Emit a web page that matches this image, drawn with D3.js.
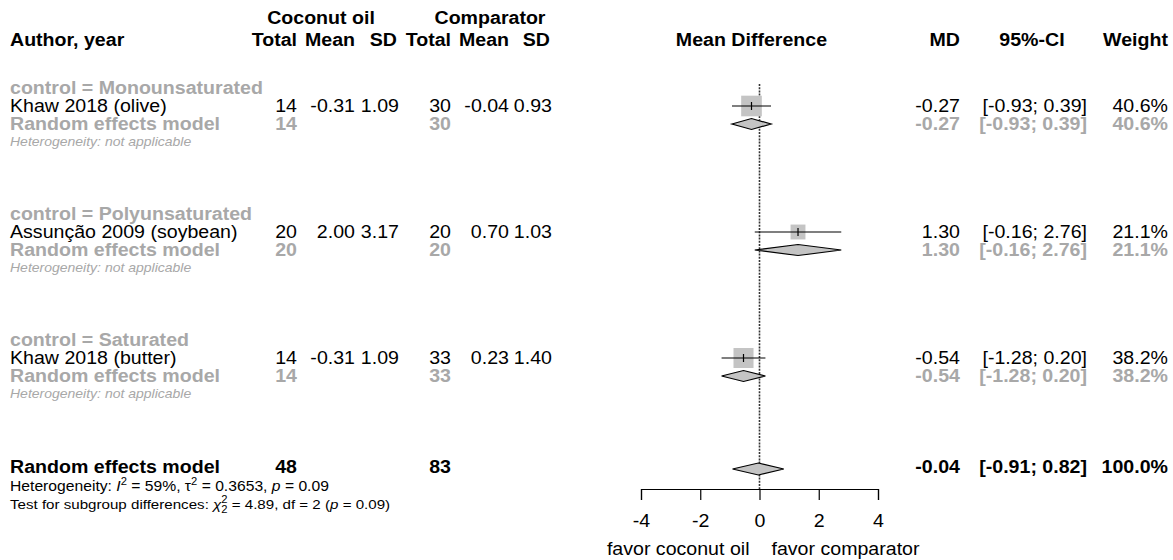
<!DOCTYPE html>
<html>
<head>
<meta charset="utf-8">
<script src="https://cdn.jsdelivr.net/npm/d3@7"></script>
<style>
  body { margin: 0; background: #fff; }
  text { font-family: "Liberation Sans", Arial, sans-serif; }
</style>
</head>
<body>
<script>
// dados
const grupos = ["control = Monounsaturated", "control = Polyunsaturated", "control = Saturated"];
const estudos = ["Khaw 2018 (olive)", "Assunção 2009 (soybean)", "Khaw 2018 (butter)"];
const totalE = [14, 20, 14];
const mediaE = [-0.31, 2.00, -0.31];
const dpE = [1.09, 3.17, 1.09];
const totalC = [30, 20, 33];
const mediaC = [-0.04, 0.70, 0.23];
const dpC = [0.93, 1.03, 1.40];
const md = [-0.27, 1.30, -0.54];
const icInf = [-0.93, -0.16, -1.28];
const icSup = [0.39, 2.76, 0.20];
const peso = [40.6, 21.1, 38.2];
const geral = { md: -0.04, inf: -0.91, sup: 0.82, peso: 100.0, totalE: 48, totalC: 83 };
const marcas = [-4, -2, 0, 2, 4];

const largura = 1173;
const altura = 560;
const cinza = "#a8a8a8";
const fs = 17.5;
const sx = 1.12;   // o texto do original está um pouco esticado na horizontal
const fmt = function(v) { return v.toFixed(2); };

var svg = d3.select("body")
            .append("svg")
            .attr("width", largura)
            .attr("height", altura);

var xEscala = d3.scaleLinear()
                .domain([-4, 4])
                .range([641, 878]);

// linha -> y
var yLinha = d3.scaleLinear()
               .domain([0, 1])
               .range([88, 106]);

// colunas (alinhadas à direita)
const col = { tE: 297, mE: 355, sE: 399, tC: 451, mC: 509, sC: 552, md: 960, ic: 1087, w: 1168 };

function texto(x, y, s, opt) {
  opt = opt || {};
  return svg.append("text")
            .attr("transform", "scale(" + sx + ",1)")
            .attr("x", x / sx)
            .attr("y", y)
            .attr("dy", "0.35em")
            .attr("text-anchor", opt.anchor || "end")
            .attr("font-size", opt.size || fs)
            .attr("font-weight", opt.bold ? "bold" : null)
            .attr("font-style", opt.italic ? "italic" : null)
            .attr("fill", opt.cor || "#000")
            .text(s);
}

// cabeçalho
texto(321, 18, "Coconut oil", { anchor: "middle", bold: true });
texto(490, 18, "Comparator", { anchor: "middle", bold: true });
texto(10, 40, "Author, year", { anchor: "start", bold: true });
texto(col.tE, 40, "Total", { bold: true });
texto(col.mE, 40, "Mean", { bold: true });
texto(col.sE - 2, 40, "SD", { bold: true });
texto(col.tC, 40, "Total", { bold: true });
texto(col.mC, 40, "Mean", { bold: true });
texto(col.sC - 2, 40, "SD", { bold: true });
texto(xEscala(0) - 8, 40, "Mean Difference", { anchor: "middle", bold: true });
texto(col.md, 40, "MD", { bold: true });
texto(1032, 40, "95%-CI", { anchor: "middle", bold: true });
texto(col.w, 40, "Weight", { bold: true });

// linha de referência
svg.append("line")
   .attr("x1", xEscala(0)).attr("x2", xEscala(0))
   .attr("y1", 84).attr("y2", 489)
   .attr("stroke", "#333")
   .attr("stroke-width", 1.6)
   .attr("stroke-dasharray", "2,1.2");

function ic(i) { return "[" + fmt(icInf[i]) + "; " + fmt(icSup[i]) + "]"; }

function losango(inf, m, sup, y, a) {
  return d3.line()([[xEscala(inf), y], [xEscala(m), y - a],
                    [xEscala(sup), y], [xEscala(m), y + a]]) + "Z";
}

grupos.forEach(function(g, i) {
  var r = i * 7;
  texto(10, yLinha(r), g, { anchor: "start", bold: true, cor: cinza });

  // estudo
  var y1 = yLinha(r + 1);
  texto(10, y1, estudos[i], { anchor: "start" });
  texto(col.tE, y1, totalE[i]);
  texto(col.mE, y1, fmt(mediaE[i]));
  texto(col.sE, y1, fmt(dpE[i]));
  texto(col.tC, y1, totalC[i]);
  texto(col.mC, y1, fmt(mediaC[i]));
  texto(col.sC, y1, fmt(dpC[i]));
  texto(col.md, y1, fmt(md[i]));
  texto(col.ic, y1, ic(i));
  texto(col.w, y1, peso[i].toFixed(1) + "%");

  var lado = 3.24 * Math.sqrt(peso[i]);
  svg.append("rect")
     .attr("x", xEscala(md[i]) - lado / 2)
     .attr("y", y1 - lado / 2)
     .attr("width", lado)
     .attr("height", lado)
     .attr("fill", "#c4c4c4");
  svg.append("line")
     .attr("x1", xEscala(icInf[i])).attr("x2", xEscala(icSup[i]))
     .attr("y1", y1).attr("y2", y1)
     .attr("stroke", "#000").attr("stroke-width", 1.2);
  svg.append("line")
     .attr("x1", xEscala(md[i])).attr("x2", xEscala(md[i]))
     .attr("y1", y1 - 4).attr("y2", y1 + 4)
     .attr("stroke", "#000").attr("stroke-width", 1.2);

  // modelo do subgrupo
  var y2 = yLinha(r + 2);
  texto(10, y2, "Random effects model", { anchor: "start", bold: true, cor: cinza });
  texto(col.tE, y2, totalE[i], { bold: true, cor: cinza });
  texto(col.tC, y2, totalC[i], { bold: true, cor: cinza });
  texto(col.md, y2, fmt(md[i]), { bold: true, cor: cinza });
  texto(col.ic, y2, ic(i), { bold: true, cor: cinza });
  texto(col.w, y2, peso[i].toFixed(1) + "%", { bold: true, cor: cinza });
  svg.append("path")
     .attr("d", losango(icInf[i], md[i], icSup[i], y2, 5.5))
     .attr("fill", "#c4c4c4")
     .attr("stroke", "#000")
     .attr("stroke-width", 1.2);

  texto(10, yLinha(r + 3), "Heterogeneity: not applicable", { anchor: "start", italic: true, size: 12.5, cor: cinza });
});

// modelo geral
var yg = yLinha(21) + 1;
texto(10, yg, "Random effects model", { anchor: "start", bold: true });
texto(col.tE, yg, geral.totalE, { bold: true });
texto(col.tC, yg, geral.totalC, { bold: true });
texto(col.md, yg, fmt(geral.md), { bold: true });
texto(col.ic, yg, "[" + fmt(geral.inf) + "; " + fmt(geral.sup) + "]", { bold: true });
texto(col.w, yg, geral.peso.toFixed(1) + "%", { bold: true });
svg.append("path")
   .attr("d", losango(geral.inf, geral.md, geral.sup, yg + 2, 6))
   .attr("fill", "#c4c4c4")
   .attr("stroke", "#000")
   .attr("stroke-width", 1.2);

// heterogeneidade
var h = texto(10, yLinha(22) + 2, "", { anchor: "start", size: 14 });
h.append("tspan").text("Heterogeneity: ");
h.append("tspan").attr("font-style", "italic").text("I");
h.append("tspan").attr("dy", -6).attr("font-size", 10).text("2");
h.append("tspan").attr("dy", 6).text(" = 59%, τ");
h.append("tspan").attr("dy", -6).attr("font-size", 10).text("2");
h.append("tspan").attr("dy", 6).text(" = 0.3653, ");
h.append("tspan").attr("font-style", "italic").text("p");
h.append("tspan").text(" = 0.09");

var t = texto(10, yLinha(23) + 2, "", { anchor: "start", size: 13.5 });
t.append("tspan").text("Test for subgroup differences: ");
t.append("tspan").attr("font-style", "italic").text("χ");
t.append("tspan").attr("dy", -6).attr("font-size", 10).text("2");
t.append("tspan").attr("dx", -5.6).attr("dy", 10).attr("font-size", 10).text("2");
t.append("tspan").attr("dy", -4).text(" = 4.89, df = 2 (");
t.append("tspan").attr("font-style", "italic").text("p");
t.append("tspan").text(" = 0.09)");

// eixo
var eixo = svg.append("g")
              .attr("transform", "translate(0, 489)")
              .call(d3.axisBottom(xEscala)
                      .tickValues(marcas)
                      .tickSizeOuter(0)
                      .tickSize(11)
                      .tickPadding(15)
                      .tickFormat(function(d) { return String(d); }));
eixo.select(".domain").attr("stroke-width", 1.2);
eixo.selectAll(".tick line").attr("stroke-width", 1.2);
eixo.selectAll("text")
    .attr("transform", "scale(" + sx + ",1)")
    .attr("font-size", fs)
    .attr("font-family", "Liberation Sans, Arial, sans-serif");

texto(xEscala(0) - 10, 549, "favor coconut oil", { anchor: "end" });
texto(xEscala(0) + 12, 549, "favor comparator", { anchor: "start" });
</script>
</body>
</html>
